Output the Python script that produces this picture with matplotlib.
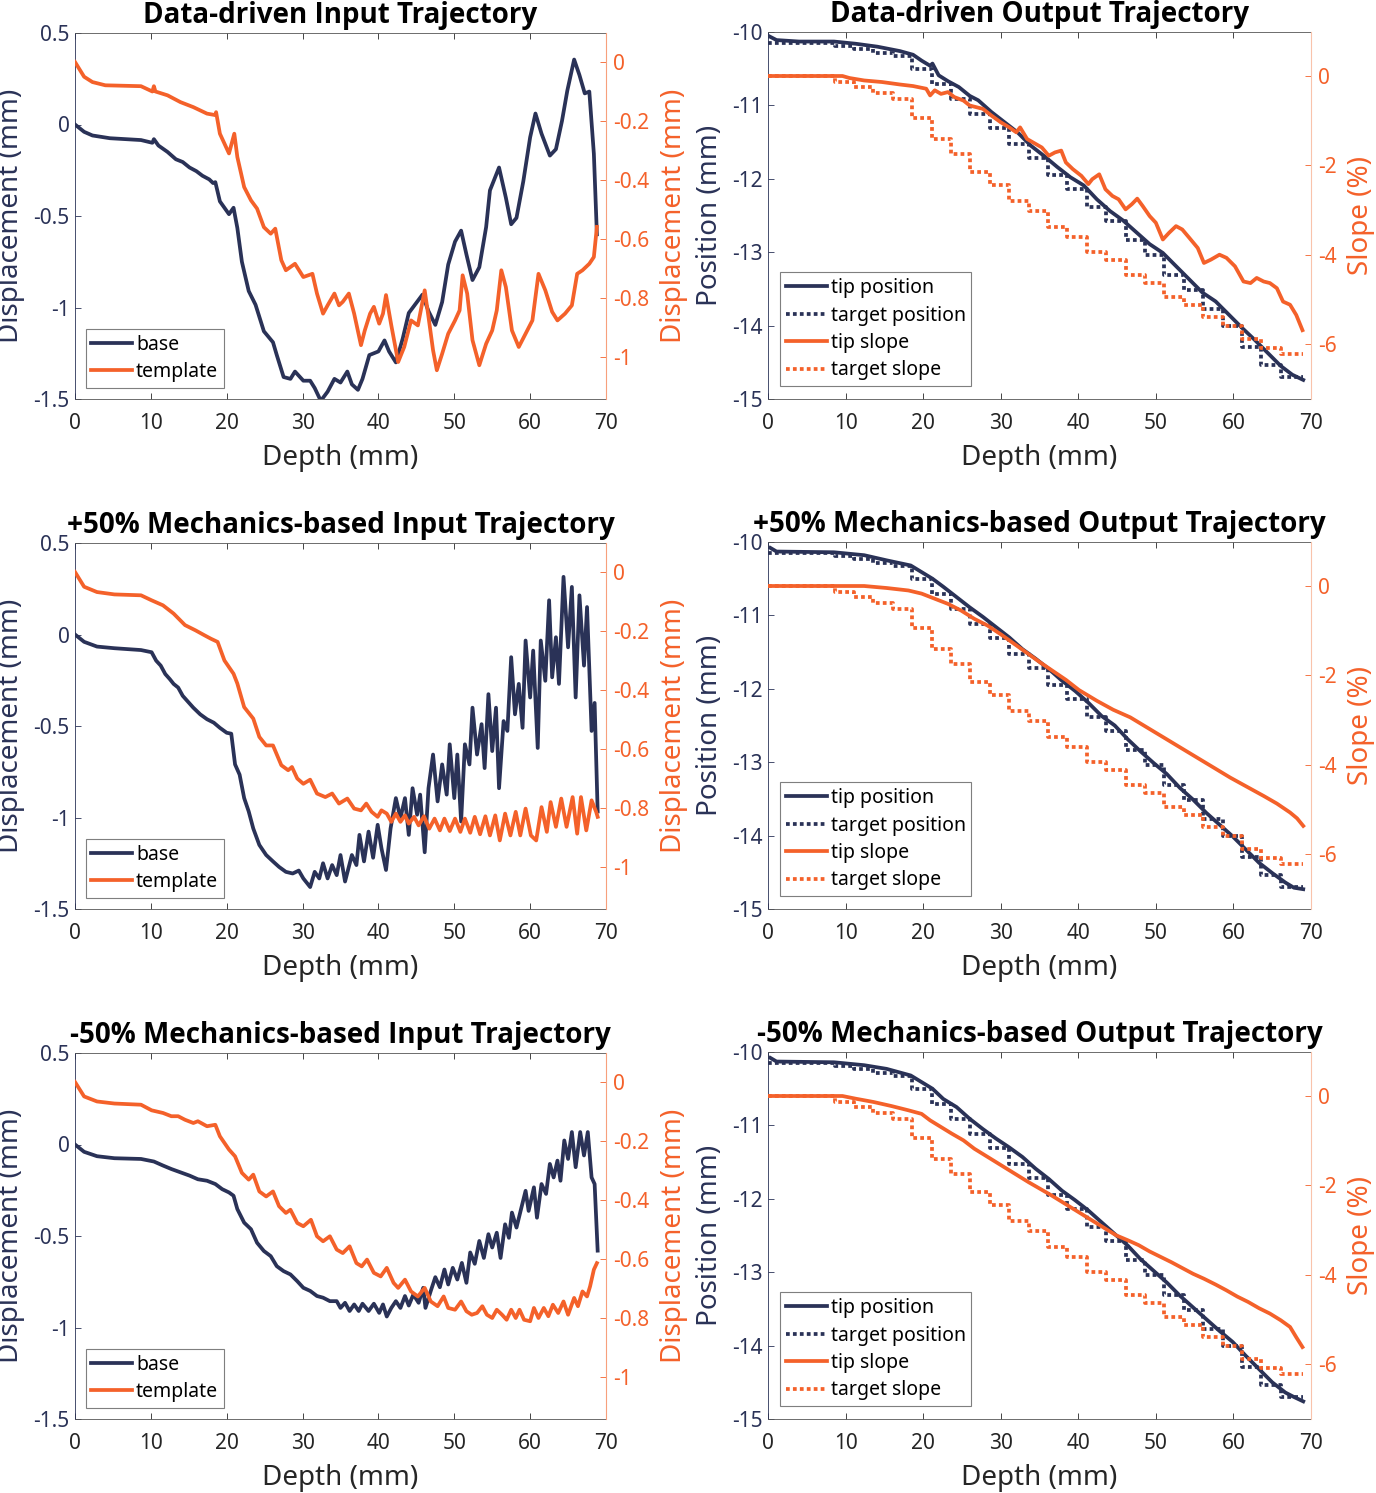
import matplotlib
matplotlib.use("Agg")
import matplotlib.pyplot as plt
from matplotlib.lines import Line2D

plt.rcParams["font.family"] = ["Noto Sans", "DejaVu Sans"]
plt.rcParams["axes.unicode_minus"] = False

NAVY = "#2a3257"
ORANGE = "#f4612a"
ORANGE_SPINE = "#f7a07c"
GREY = "#262626"

# ---------------- input trajectories (depth mm, displacement mm) ----------------
dd_base_x = [0, 1.2, 2.3, 4.6, 8.7, 10.2, 10.4, 11.0, 12.2, 13.3, 14.2, 15.1, 16.0, 16.8, 17.7,
             18.2, 18.5, 19.1, 20.3, 20.9, 21.4, 22.0, 22.9, 23.8, 24.9, 26.1, 26.6, 27.5, 28.4,
             29.0, 30.1, 31.0, 31.6, 32.4, 33.3, 34.2, 35.0, 35.9, 36.5, 37.3, 37.9, 38.8, 40.0,
             40.8, 41.4, 42.3, 43.2, 44.0, 44.9, 45.8, 46.6, 47.5, 48.4, 49.2, 50.1, 50.9, 51.6,
             52.4, 53.3, 54.2, 54.7, 55.9, 56.8, 57.5, 58.2, 59.1, 60.0, 60.7, 61.5, 62.6, 63.4,
             64.2, 64.9, 65.8, 66.5, 67.2, 67.8, 68.4, 68.8]
dd_base_y = [0, -0.04, -0.06, -0.075, -0.085, -0.10, -0.08, -0.115, -0.15, -0.19, -0.205, -0.235,
             -0.255, -0.28, -0.30, -0.32, -0.315, -0.42, -0.49, -0.455, -0.565, -0.75, -0.91,
             -0.985, -1.13, -1.19, -1.26, -1.38, -1.39, -1.35, -1.40, -1.40, -1.44, -1.51, -1.46,
             -1.39, -1.41, -1.35, -1.42, -1.45, -1.39, -1.26, -1.24, -1.18, -1.24, -1.30, -1.17,
             -1.03, -0.98, -0.93, -1.02, -1.095, -0.97, -0.765, -0.64, -0.58, -0.71, -0.85, -0.78,
             -0.56, -0.36, -0.235, -0.40, -0.545, -0.51, -0.31, -0.07, 0.06, -0.05, -0.17, -0.135,
             0.02, 0.185, 0.355, 0.27, 0.17, 0.18, -0.16, -0.60]
dd_tmpl_x = [0, 1.2, 2.3, 4.0, 8.7, 10.2, 10.4, 10.6, 12.2, 13.9, 15.6, 17.4, 18.5, 18.6, 19.1,
             20.3, 21.0, 21.4, 22.3, 23.2, 24.0, 24.9, 25.8, 26.4, 27.2, 27.8, 29.0, 30.1, 31.3,
             31.9, 32.7, 33.3, 34.2, 34.8, 35.3, 36.1, 36.8, 37.7, 38.2, 38.9, 39.4, 40.1, 40.6,
             41.0, 41.7, 42.6, 43.4, 44.3, 45.2, 46.1, 46.6, 47.2, 47.7, 48.4, 49.2, 50.1, 50.7,
             51.1, 51.7, 52.4, 53.3, 54.2, 55.0, 55.6, 56.2, 56.8, 57.6, 58.5, 59.4, 60.3, 61.1,
             62.0, 62.9, 63.6, 64.6, 65.5, 66.2, 66.9, 67.8, 68.4, 68.8]
dd_tmpl_y = [0, -0.05, -0.068, -0.079, -0.082, -0.10, -0.082, -0.10, -0.113, -0.136, -0.153,
             -0.175, -0.18, -0.17, -0.243, -0.31, -0.243, -0.322, -0.424, -0.469, -0.497, -0.56,
             -0.582, -0.565, -0.672, -0.706, -0.684, -0.729, -0.718, -0.785, -0.853, -0.825,
             -0.785, -0.825, -0.813, -0.785, -0.853, -0.96, -0.91, -0.853, -0.83, -0.887, -0.853,
             -0.79, -0.893, -1.017, -0.966, -0.876, -0.893, -0.774, -0.864, -0.977, -1.045, -0.989,
             -0.921, -0.876, -0.842, -0.723, -0.785, -0.943, -1.028, -0.955, -0.91, -0.842, -0.706,
             -0.763, -0.91, -0.966, -0.921, -0.876, -0.718, -0.774, -0.847, -0.876, -0.853, -0.825,
             -0.718, -0.706, -0.684, -0.661, -0.559]

p50_base_x = [0, 1.2, 2.9, 5.2, 8.7, 10.1, 10.7, 11.3, 11.9, 12.5, 13.0, 13.6, 14.2, 14.8, 15.6,
              16.5, 17.4, 18.3, 19.1, 20.0, 20.6, 21.1, 21.7, 22.3, 22.9, 23.5, 24.3, 25.2, 26.1,
              26.9, 27.8, 28.7, 29.5, 30.1, 31.0, 31.6, 32.2, 32.7, 33.3, 33.9, 34.5, 35.0, 35.6,
              36.5, 37.1, 37.5, 38.1, 38.7, 39.3, 39.9, 40.4, 41.0, 41.6, 42.3, 42.9, 43.5, 44.0,
              44.5, 45.1, 45.5, 46.1, 46.6, 47.2, 47.8, 48.4, 49.0, 49.4, 50.0, 50.4, 50.9, 51.4,
              52.0, 52.4, 53.0, 53.6, 54.0, 54.5, 55.0, 55.5, 55.9, 56.5, 57.0, 57.5, 58.0, 58.5,
              59.0, 59.4, 60.0, 60.4, 61.0, 61.4, 62.0, 62.5, 62.9, 63.4, 63.8, 64.4, 65.0, 65.5,
              66.0, 66.5, 67.1, 67.5, 68.1, 68.5, 68.9]
p50_base_y = [0, -0.04, -0.066, -0.075, -0.085, -0.097, -0.143, -0.17, -0.216, -0.244, -0.27,
              -0.29, -0.335, -0.363, -0.40, -0.436, -0.463, -0.482, -0.51, -0.537, -0.542, -0.71,
              -0.766, -0.894, -0.967, -1.06, -1.15, -1.205, -1.24, -1.27, -1.297, -1.306, -1.29,
              -1.333, -1.38, -1.297, -1.333, -1.25, -1.333, -1.26, -1.315, -1.205, -1.35, -1.205,
              -1.26, -1.095, -1.24, -1.077, -1.22, -1.04, -1.168, -1.287, -1.06, -0.894, -1.004,
              -0.894, -1.095, -0.84, -0.985, -0.875, -1.19, -0.84, -0.656, -0.912, -0.71, -0.875,
              -0.60, -0.894, -0.656, -1.022, -0.60, -0.71, -0.40, -0.656, -0.49, -0.73, -0.326,
              -0.637, -0.40, -0.84, -0.473, -0.527, -0.124, -0.436, -0.27, -0.51, -0.033, -0.344,
              -0.088, -0.62, -0.033, -0.253, 0.187, -0.234, -0.015, -0.27, 0.315, -0.07, 0.26,
              -0.344, 0.214, -0.17, 0.15, -0.527, -0.374, -0.967]
p50_tmpl_x = [0, 1.2, 2.9, 5.2, 8.7, 10.1, 11.6, 13.0, 14.5, 15.9, 17.1, 17.9, 18.8, 19.7, 20.9,
              21.4, 22.3, 23.5, 24.3, 25.2, 26.1, 27.2, 28.1, 28.6, 29.3, 30.1, 31.0, 31.9, 33.0,
              33.9, 34.8, 35.9, 36.8, 37.7, 38.4, 39.1, 39.9, 40.4, 41.1, 41.7, 42.3, 42.9, 43.5,
              44.0, 44.7, 45.3, 46.0, 46.7, 47.4, 48.1, 48.7, 49.4, 50.1, 50.8, 51.4, 52.1, 52.7,
              53.4, 54.1, 54.7, 55.4, 56.0, 56.7, 57.4, 58.1, 58.7, 59.4, 60.1, 60.8, 61.5, 62.2,
              62.7, 63.4, 64.1, 64.8, 65.6, 66.2, 66.7, 67.4, 68.1, 68.7, 68.9]
p50_tmpl_y = [0, -0.05, -0.068, -0.076, -0.079, -0.096, -0.113, -0.141, -0.18, -0.198, -0.215,
              -0.226, -0.237, -0.30, -0.345, -0.378, -0.458, -0.497, -0.559, -0.588, -0.588,
              -0.655, -0.672, -0.661, -0.70, -0.718, -0.704, -0.751, -0.763, -0.751, -0.785,
              -0.768, -0.802, -0.808, -0.785, -0.813, -0.83, -0.808, -0.819, -0.847, -0.819,
              -0.847, -0.825, -0.853, -0.83, -0.859, -0.828, -0.87, -0.836, -0.876, -0.836,
              -0.878, -0.836, -0.881, -0.836, -0.884, -0.83, -0.889, -0.828, -0.893, -0.825,
              -0.91, -0.819, -0.893, -0.813, -0.893, -0.802, -0.893, -0.91, -0.797, -0.881, -0.78,
              -0.864, -0.768, -0.864, -0.763, -0.887, -0.763, -0.876, -0.774, -0.813, -0.83]

m50_base_x = [0, 1.2, 2.9, 5.2, 8.7, 10.4, 11.6, 12.7, 13.9, 15.1, 16.2, 17.4, 18.5, 19.4, 20.3,
              20.9, 21.4, 22.3, 23.2, 24.0, 24.9, 25.8, 26.6, 27.5, 28.4, 29.3, 30.1, 31.0, 31.9,
              32.7, 33.6, 34.5, 35.0, 35.6, 36.2, 36.8, 37.4, 37.9, 38.7, 39.4, 40.1, 40.6, 41.1,
              41.7, 42.3, 42.9, 43.5, 44.0, 44.6, 45.3, 45.9, 46.2, 46.9, 47.5, 48.1, 48.7, 49.2,
              49.8, 50.4, 51.0, 51.6, 52.1, 52.7, 53.3, 53.9, 54.5, 55.0, 55.6, 56.1, 56.7, 57.2,
              57.6, 58.2, 58.8, 59.4, 59.8, 60.5, 60.9, 61.5, 62.1, 62.6, 63.1, 63.6, 64.0, 64.5,
              65.0, 65.5, 66.0, 66.6, 67.1, 67.6, 68.1, 68.5, 68.9]
m50_base_y = [0, -0.04, -0.064, -0.075, -0.079, -0.093, -0.115, -0.134, -0.152, -0.17, -0.19,
              -0.198, -0.216, -0.244, -0.262, -0.28, -0.353, -0.427, -0.463, -0.537, -0.582,
              -0.61, -0.665, -0.692, -0.71, -0.747, -0.783, -0.80, -0.828, -0.837, -0.856, -0.856,
              -0.893, -0.865, -0.91, -0.874, -0.91, -0.87, -0.91, -0.87, -0.92, -0.874, -0.94,
              -0.893, -0.856, -0.893, -0.828, -0.88, -0.82, -0.865, -0.783, -0.893, -0.80, -0.725,
              -0.78, -0.683, -0.765, -0.674, -0.738, -0.647, -0.756, -0.59, -0.652, -0.527, -0.62,
              -0.49, -0.563, -0.482, -0.62, -0.436, -0.51, -0.372, -0.454, -0.353, -0.253, -0.363,
              -0.234, -0.40, -0.216, -0.27, -0.106, -0.18, -0.088, -0.198, 0.022, -0.079, 0.068,
              -0.124, 0.068, -0.06, 0.068, -0.18, -0.216, -0.58]
m50_tmpl_x = [0, 1.2, 2.9, 5.2, 8.7, 10.1, 11.6, 12.7, 13.6, 14.5, 15.6, 16.2, 17.4, 18.5, 19.1,
              20.3, 21.1, 22.0, 22.9, 23.5, 24.3, 25.2, 26.1, 26.9, 27.8, 28.4, 29.3, 30.1, 31.1,
              31.9, 32.7, 33.6, 34.5, 35.3, 36.2, 37.1, 37.8, 38.5, 39.4, 40.3, 41.1, 42.0, 42.6,
              43.5, 44.3, 45.2, 46.1, 46.9, 47.8, 48.6, 49.2, 50.1, 50.9, 51.6, 52.3, 53.0, 53.7,
              54.3, 55.0, 55.6, 56.3, 56.9, 57.5, 58.1, 58.6, 59.2, 60.0, 60.5, 61.1, 61.8, 62.4,
              63.0, 63.7, 64.4, 65.0, 65.8, 66.3, 66.9, 67.5, 67.9, 68.4, 68.8]
m50_tmpl_y = [0, -0.049, -0.066, -0.073, -0.077, -0.096, -0.105, -0.116, -0.116, -0.128, -0.139,
              -0.133, -0.15, -0.145, -0.184, -0.229, -0.252, -0.308, -0.331, -0.314, -0.371,
              -0.388, -0.371, -0.421, -0.444, -0.433, -0.478, -0.489, -0.467, -0.523, -0.54,
              -0.523, -0.568, -0.58, -0.557, -0.614, -0.625, -0.602, -0.647, -0.659, -0.63,
              -0.681, -0.698, -0.67, -0.71, -0.727, -0.698, -0.744, -0.76, -0.727, -0.766, -0.772,
              -0.744, -0.777, -0.789, -0.783, -0.76, -0.789, -0.80, -0.772, -0.789, -0.806,
              -0.772, -0.80, -0.772, -0.806, -0.811, -0.766, -0.80, -0.766, -0.794, -0.755,
              -0.783, -0.744, -0.789, -0.732, -0.76, -0.71, -0.727, -0.693, -0.636, -0.614]

# ---------------- output trajectories ----------------
# target staircase shared by all three output plots
target_edges = [0, 8.6, 11.1, 13.6, 16.1, 18.6, 21.1, 23.6, 26.1, 28.6, 31.1, 33.6, 36.1, 38.6,
                41.1, 43.6, 46.1, 48.6, 51.1, 53.6, 56.1, 58.6, 61.1, 63.6, 66.1, 69.0]
target_pos = [-10.15, -10.19, -10.23, -10.29, -10.33, -10.51, -10.71, -10.91, -11.12, -11.31,
              -11.53, -11.71, -11.95, -12.14, -12.39, -12.58, -12.84, -13.04, -13.31, -13.52,
              -13.78, -14.01, -14.29, -14.54, -14.70]
target_slope = [0, -0.14, -0.25, -0.38, -0.52, -0.94, -1.40, -1.75, -2.15, -2.43, -2.80, -3.03,
                -3.39, -3.60, -3.93, -4.12, -4.45, -4.63, -4.94, -5.13, -5.40, -5.60, -5.88,
                -6.08, -6.23]

dd_pos_x = [0, 1.1, 4.0, 8.5, 11.3, 14.1, 17.0, 18.7, 19.8, 20.9, 21.2, 22.0, 23.2, 24.6, 26.0,
            27.1, 28.8, 30.5, 32.2, 33.9, 35.6, 37.3, 39.0, 40.7, 42.4, 44.1, 45.8, 47.5, 49.2,
            50.9, 52.6, 54.3, 56.0, 57.7, 59.4, 61.1, 62.7, 64.4, 66.1, 67.6, 69.0]
dd_pos_y = [-10.05, -10.11, -10.13, -10.13, -10.16, -10.20, -10.26, -10.31, -10.39, -10.46,
            -10.43, -10.59, -10.67, -10.75, -10.87, -10.93, -11.09, -11.23, -11.37, -11.55,
            -11.69, -11.84, -11.98, -12.09, -12.28, -12.44, -12.57, -12.73, -12.89, -13.01,
            -13.19, -13.37, -13.55, -13.67, -13.85, -14.03, -14.19, -14.37, -14.55, -14.67,
            -14.74]
dd_slope_x = [0, 9.6, 10.5, 12.4, 14.7, 17.0, 18.7, 20.4, 20.9, 21.5, 22.3, 23.2, 24.0, 25.2,
              26.0, 26.9, 27.7, 28.8, 30.0, 31.1, 32.0, 32.5, 33.4, 34.5, 35.3, 36.2, 37.0, 37.8,
              38.4, 39.3, 40.4, 41.3, 41.8, 42.7, 43.5, 44.4, 45.2, 46.1, 46.9, 47.6, 48.3, 49.2,
              50.0, 50.9, 51.7, 52.6, 53.4, 54.3, 55.4, 56.2, 57.1, 58.2, 59.1, 60.2, 61.3, 62.2,
              63.0, 63.9, 64.7, 65.6, 66.4, 67.3, 68.1, 68.9]
dd_slope_y = [0, 0, -0.045, -0.10, -0.135, -0.19, -0.225, -0.285, -0.435, -0.32, -0.40, -0.36,
              -0.47, -0.55, -0.66, -0.70, -0.735, -0.885, -1.035, -1.15, -1.26, -1.15, -1.41,
              -1.52, -1.60, -1.785, -1.71, -1.67, -1.935, -2.085, -2.235, -2.42, -2.31, -2.20,
              -2.535, -2.685, -2.76, -2.985, -2.87, -2.745, -2.91, -3.135, -3.285, -3.66, -3.51,
              -3.36, -3.435, -3.62, -3.85, -4.185, -4.11, -4.00, -4.07, -4.26, -4.60, -4.635,
              -4.52, -4.60, -4.635, -4.75, -5.05, -5.12, -5.35, -5.69]

p50_pos_x = [0.3, 1.1, 8.5, 12.4, 15.3, 18.4, 19.8, 21.2, 22.6, 24.3, 26.0, 27.7, 29.4, 31.1,
             32.8, 34.5, 36.2, 37.9, 39.6, 41.3, 43.0, 44.7, 46.4, 48.0, 49.7, 51.4, 53.1, 54.8,
             56.5, 58.2, 59.9, 61.6, 63.3, 65.0, 66.7, 67.8, 69.0]
p50_pos_y = [-10.08, -10.13, -10.14, -10.18, -10.25, -10.32, -10.41, -10.50, -10.61, -10.75,
             -10.89, -11.02, -11.16, -11.30, -11.46, -11.59, -11.73, -11.89, -12.03, -12.19,
             -12.37, -12.50, -12.69, -12.85, -13.01, -13.16, -13.35, -13.51, -13.69, -13.85,
             -14.01, -14.19, -14.37, -14.51, -14.64, -14.71, -14.73]
p50_slope_x = [0, 8.5, 12.4, 15.3, 18.1, 19.8, 21.5, 23.2, 24.9, 26.6, 28.3, 30.0, 31.7, 33.4,
               35.0, 36.7, 38.4, 40.1, 42.4, 44.5, 46.7, 48.8, 51.0, 53.1, 55.3, 57.5, 59.6,
               61.8, 63.9, 65.6, 67.3, 68.2, 69.0]
p50_slope_y = [0, 0, 0, -0.045, -0.10, -0.17, -0.285, -0.40, -0.55, -0.735, -0.885, -1.08,
               -1.29, -1.50, -1.70, -1.90, -2.10, -2.33, -2.57, -2.77, -2.94, -3.16, -3.39,
               -3.61, -3.84, -4.07, -4.29, -4.50, -4.70, -4.87, -5.07, -5.20, -5.37]

m50_pos_x = [0.3, 1.1, 8.5, 12.4, 15.3, 18.4, 19.8, 21.2, 22.6, 24.3, 26.0, 27.7, 29.4, 31.1,
             32.8, 34.5, 36.2, 37.9, 39.6, 41.3, 43.0, 44.7, 46.4, 48.0, 49.7, 51.4, 53.1, 54.8,
             56.5, 58.2, 59.9, 61.6, 63.3, 65.0, 66.7, 67.8, 69.0]
m50_pos_y = [-10.08, -10.13, -10.14, -10.18, -10.23, -10.32, -10.41, -10.50, -10.64, -10.75,
             -10.91, -11.05, -11.18, -11.30, -11.43, -11.59, -11.73, -11.89, -12.02, -12.16,
             -12.32, -12.48, -12.64, -12.82, -12.98, -13.14, -13.32, -13.48, -13.64, -13.80,
             -13.95, -14.14, -14.32, -14.50, -14.64, -14.70, -14.76]
m50_slope_x = [0, 9.6, 11.3, 13.6, 15.9, 18.1, 19.8, 20.9, 22.3, 23.7, 25.2, 26.6, 28.0, 29.4,
               30.8, 32.2, 33.6, 35.0, 36.5, 37.9, 39.3, 40.7, 42.1, 43.5, 44.9, 46.4, 47.8,
               49.2, 50.6, 52.0, 53.4, 54.8, 56.2, 57.7, 59.1, 60.5, 61.9, 63.3, 64.7, 66.1,
               67.3, 68.1, 68.9]
m50_slope_y = [0, 0, -0.06, -0.134, -0.224, -0.32, -0.40, -0.545, -0.694, -0.843, -0.993, -1.18,
               -1.33, -1.48, -1.63, -1.78, -1.93, -2.07, -2.22, -2.37, -2.52, -2.67, -2.82,
               -2.97, -3.12, -3.23, -3.34, -3.48, -3.60, -3.72, -3.85, -3.98, -4.09, -4.22,
               -4.35, -4.49, -4.61, -4.75, -4.87, -5.02, -5.17, -5.40, -5.62]

LW = 2.7
DOTS = (1.0, 0.85)
TICK_FS = 15
LABEL_FS = 20
TITLE_FS = 20
LEGEND_FS = 14
TITLE_FONT = ["Open Sans", "Noto Sans", "DejaVu Sans"]


def style_axes(ax, ax2, right_spine_color):
    ax.set_xlim(0, 70)
    ax.set_xticks(range(0, 71, 10))
    ax.tick_params(axis="x", direction="in", length=4, top=True, colors=GREY,
                   labelsize=TICK_FS, pad=10, width=0.6)
    ax.tick_params(axis="y", direction="in", length=4, colors=NAVY, labelsize=TICK_FS,
                   pad=4, width=0.6)
    ax2.tick_params(axis="y", direction="in", length=4, colors=ORANGE, labelsize=TICK_FS,
                    pad=5, width=0.6)
    for s in ["top", "bottom"]:
        ax.spines[s].set_color("#555555")
        ax.spines[s].set_linewidth(0.6)
    ax.spines["left"].set_color(NAVY)
    ax.spines["left"].set_linewidth(0.6)
    ax.spines["right"].set_visible(False)
    for s in ["top", "bottom", "left"]:
        ax2.spines[s].set_visible(False)
    ax2.spines["right"].set_color(right_spine_color)
    ax2.spines["right"].set_linewidth(0.8)
    ax.set_xlabel("Depth (mm)", fontsize=LABEL_FS, color=GREY)
    ax.xaxis.set_label_coords(0.5, -0.122)


def make_legend(ax2, handles, labels, anchor):
    leg = ax2.legend(handles, labels, loc="lower left", bbox_to_anchor=anchor,
                     borderaxespad=0, fontsize=LEGEND_FS, handlelength=2.1,
                     handletextpad=0.2, labelspacing=0.38, borderpad=0.3,
                     fancybox=False, framealpha=1)
    leg.get_frame().set_edgecolor("#7f7f7f")
    leg.get_frame().set_linewidth(0.8)


def input_panel(rect, title, bx, by, tx, ty):
    ax = fig.add_axes(rect)
    ax2 = ax.twinx()
    ax.plot(bx, by, color=NAVY, lw=LW)
    ax2.plot(tx, ty, color=ORANGE, lw=LW)
    ax.set_ylim(-1.5, 0.5)
    ax.set_yticks([-1.5, -1, -0.5, 0, 0.5])
    ax.set_yticklabels(["-1.5", "-1", "-0.5", "0", "0.5"])
    ax2.set_ylim(-1.1424, 0.0983)
    ax2.set_yticks([-1, -0.8, -0.6, -0.4, -0.2, 0])
    ax2.set_yticklabels(["-1", "-0.8", "-0.6", "-0.4", "-0.2", "0"])
    style_axes(ax, ax2, ORANGE_SPINE)
    ax.set_ylabel("Displacement (mm)", fontsize=LABEL_FS, color=NAVY)
    ax.yaxis.set_label_coords(-0.094, 0.5)
    ax2.set_ylabel("Displacement (mm)", fontsize=LABEL_FS, color=ORANGE)
    ax2.yaxis.set_label_coords(1.102, 0.5)
    ax.set_title(title, fontsize=TITLE_FS, fontweight="bold", family=TITLE_FONT, pad=7)
    handles = [Line2D([], [], color=NAVY, lw=LW), Line2D([], [], color=ORANGE, lw=LW)]
    make_legend(ax2, handles, ["base", "template"], (0.02, 0.03))


def output_panel(rect, title, px, py, sx, sy):
    ax = fig.add_axes(rect)
    ax2 = ax.twinx()
    ax.plot(px, py, color=NAVY, lw=LW)
    ax.step(target_edges, target_pos + [target_pos[-1]], where="post", color=NAVY,
            lw=LW, dashes=DOTS)
    ax2.plot(sx, sy, color=ORANGE, lw=LW)
    ax2.step(target_edges, target_slope + [target_slope[-1]], where="post", color=ORANGE,
             lw=LW, dashes=DOTS)
    ax.set_ylim(-15, -10)
    ax.set_yticks([-15, -14, -13, -12, -11, -10])
    ax.set_yticklabels(["-15", "-14", "-13", "-12", "-11", "-10"])
    ax2.set_ylim(-7.23, 0.985)
    ax2.set_yticks([-6, -4, -2, 0])
    ax2.set_yticklabels(["-6", "-4", "-2", "0"])
    style_axes(ax, ax2, "#f9c3ab")
    ax.set_ylabel("Position (mm)", fontsize=LABEL_FS, color=NAVY)
    ax.yaxis.set_label_coords(-0.081, 0.5)
    ax2.set_ylabel("Slope (%)", fontsize=LABEL_FS, color=ORANGE)
    ax2.yaxis.set_label_coords(1.066, 0.5)
    ax.set_title(title, fontsize=TITLE_FS, fontweight="bold", family=TITLE_FONT, pad=7)
    handles = [Line2D([], [], color=NAVY, lw=LW),
               Line2D([], [], color=NAVY, lw=LW, dashes=DOTS),
               Line2D([], [], color=ORANGE, lw=LW),
               Line2D([], [], color=ORANGE, lw=LW, dashes=DOTS)]
    labels = ["tip position", "target position", "tip slope", "target slope"]
    make_legend(ax2, handles, labels, (0.022, 0.035))


fig = plt.figure(figsize=(13.76, 14.93), dpi=100)

W, H = 1376, 1493
rows_top = [33, 543, 1053]
titles_in = ["Data-driven Input Trajectory", "+50% Mechanics-based Input Trajectory",
             "-50% Mechanics-based Input Trajectory"]
titles_out = ["Data-driven Output Trajectory", "+50% Mechanics-based Output Trajectory",
              "-50% Mechanics-based Output Trajectory"]
bases = [(dd_base_x, dd_base_y), (p50_base_x, p50_base_y), (m50_base_x, m50_base_y)]
tmpls = [(dd_tmpl_x, dd_tmpl_y), (p50_tmpl_x, p50_tmpl_y), (m50_tmpl_x, m50_tmpl_y)]
poss = [(dd_pos_x, dd_pos_y), (p50_pos_x, p50_pos_y), (m50_pos_x, m50_pos_y)]
slopes = [(dd_slope_x, dd_slope_y), (p50_slope_x, p50_slope_y), (m50_slope_x, m50_slope_y)]

for top, t_in, t_out, base, tmpl, pos, slope in zip(rows_top, titles_in, titles_out,
                                                     bases, tmpls, poss, slopes):
    bottom = 1 - (top + 366) / H
    input_panel([75 / W, bottom, 531 / W, 366 / H], t_in, *base, *tmpl)
    output_panel([768 / W, bottom, 543 / W, 367 / H], t_out, *pos, *slope)

fig.savefig("out.png", dpi=100)
plt.close(fig)
